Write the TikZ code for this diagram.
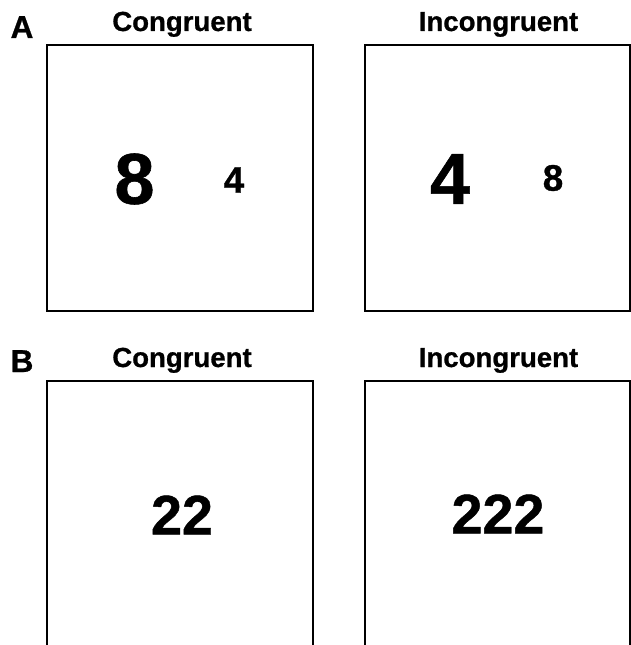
\documentclass[tikz,border=0pt]{standalone}
\usepackage{fontspec}
\setmainfont{Liberation Sans}[BoldFeatures={FakeBold=0.8}]
\begin{document}
\begin{tikzpicture}[x=0.02cm, y=-0.02cm,
    panel/.style={draw, line width=0.04cm, minimum width=5.32cm, minimum height=5.32cm, inner sep=0},
    title/.style={anchor=base, font=\fontsize{15.7}{18}\selectfont\bfseries},
    letter/.style={anchor=base, font=\fontsize{18}{20}\selectfont\bfseries},
    bignum/.style={inner sep=0, font=\fontsize{41}{48}\selectfont\bfseries},
    smallnum/.style={inner sep=0, font=\fontsize{21}{24}\selectfont\bfseries},
    midnum/.style={inner sep=0, font=\fontsize{31.7}{36}\selectfont\bfseries}]
    \useasboundingbox (0,0) rectangle (631,645);
    \clip (0,0) rectangle (631,645);

    % panel A
    \node[letter] (labA) at (22,38) {A};
    \node[title] (congA) at (182,31) {Congruent};
    \node[title] (incongA) at (498.5,31) {Incongruent};
    \node[panel] (boxAc) at (180,178) {};
    \node[panel] (boxAi) at (497.5,178) {};
    \node[bignum] (eightA) at (134.5,179) {8};
    \node[smallnum] (fourA) at (234,180) {4};
    \node[bignum] (fourAi) at (450,179) {4};
    \node[smallnum] (eightAi) at (553,178) {8};

    % panel B
    \node[letter] (labB) at (22,372) {B};
    \node[title] (congB) at (182,367) {Congruent};
    \node[title] (incongB) at (498.5,367) {Incongruent};
    \node[panel] (boxBc) at (180,514) {};
    \node[panel] (boxBi) at (497.5,514) {};
    \node[midnum] (twoB) at (182,515) {22};
    \node[midnum] (threeB) at (498,514) {222};
\end{tikzpicture}
\end{document}
